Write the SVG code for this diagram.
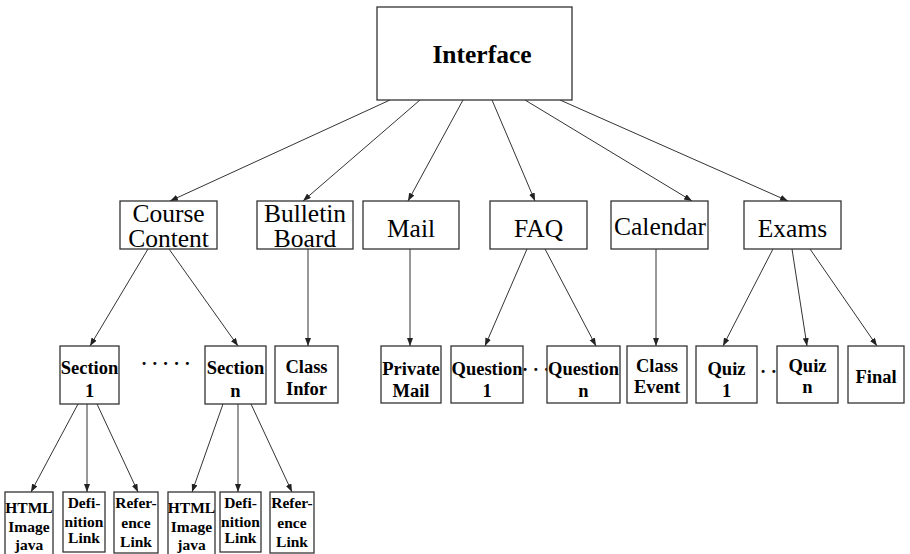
<svg xmlns="http://www.w3.org/2000/svg" width="910" height="554" viewBox="0 0 910 554">
  <defs>
    <marker id="arrow" markerUnits="userSpaceOnUse" markerWidth="9" markerHeight="7" refX="8" refY="3" orient="auto">
      <path d="M0,0 L8,3 L0,6 Z" fill="#222"/>
    </marker>
    <style>
      rect { fill: #fff; stroke: #333; stroke-width: 1.3; }
      .edges line { stroke: #333; stroke-width: 1; marker-end: url(#arrow); }
      text { font-family: "Liberation Serif", "Times New Roman", serif; fill: #000; text-anchor: middle; }
      .top { font-size: 25.5px; font-weight: bold; }
      .l2 { font-size: 25.5px; }
      .l3 { font-size: 18.5px; font-weight: bold; }
      .l4 { font-size: 15.5px; font-weight: bold; }
      .dots { font-size: 18.5px; font-weight: bold; text-anchor: start; }
    </style>
  </defs>
  <rect x="0" y="0" width="910" height="554" style="fill:#fff;stroke:none"/>

  <!-- connectors -->
  <g id="connectors" class="edges">
    <line x1="390" y1="100" x2="170" y2="201"/>
    <line x1="420" y1="100" x2="303" y2="201"/>
    <line x1="463" y1="100" x2="408" y2="201"/>
    <line x1="492" y1="100" x2="535" y2="201"/>
    <line x1="525" y1="100" x2="692" y2="201"/>
    <line x1="560" y1="100" x2="788" y2="201"/>

    <line x1="148" y1="249" x2="90" y2="346"/>
    <line x1="169" y1="249" x2="238" y2="346"/>
    <line x1="308" y1="249" x2="308" y2="346"/>
    <line x1="410" y1="249" x2="410" y2="346"/>
    <line x1="527" y1="249" x2="485" y2="346"/>
    <line x1="545" y1="249" x2="596" y2="346"/>
    <line x1="656" y1="249" x2="656" y2="346"/>
    <line x1="773" y1="249" x2="723" y2="346"/>
    <line x1="792" y1="249" x2="807" y2="346"/>
    <line x1="810" y1="249" x2="877" y2="346"/>

    <line x1="78" y1="404" x2="31" y2="492"/>
    <line x1="87" y1="404" x2="87" y2="492"/>
    <line x1="97" y1="404" x2="138" y2="492"/>
    <line x1="223" y1="404" x2="192" y2="492"/>
    <line x1="238" y1="404" x2="238" y2="492"/>
    <line x1="251" y1="404" x2="292" y2="492"/>
  </g>

  <!-- root -->
  <g id="interface">
    <rect x="377" y="7" width="195" height="93"/>
    <text class="top" x="482" y="63">Interface</text>
  </g>

  <!-- second level -->
  <g id="course-content">
    <rect x="120" y="201" width="97" height="48"/>
    <text class="l2" x="168.5" y="222">Course</text>
    <text class="l2" x="168.5" y="247">Content</text>
  </g>
  <g id="bulletin-board">
    <rect x="257" y="201" width="96" height="48"/>
    <text class="l2" x="305" y="222">Bulletin</text>
    <text class="l2" x="305" y="247">Board</text>
  </g>
  <g id="mail">
    <rect x="363" y="201" width="96" height="48"/>
    <text class="l2" x="411" y="237">Mail</text>
  </g>
  <g id="faq">
    <rect x="490" y="201" width="97" height="48"/>
    <text class="l2" x="538.5" y="237">FAQ</text>
  </g>
  <g id="calendar">
    <rect x="611" y="201" width="97" height="48"/>
    <text class="l2" x="660" y="234.5">Calendar</text>
  </g>
  <g id="exams">
    <rect x="744" y="201" width="97" height="48"/>
    <text class="l2" x="792.5" y="237">Exams</text>
  </g>

  <!-- third level -->
  <g id="section-1">
    <rect x="60" y="346" width="59" height="58"/>
    <text class="l3" x="89.5" y="374">Section</text>
    <text class="l3" x="89.5" y="397">1</text>
  </g>
  <text class="dots" x="141" y="370">· · · · ·</text>
  <g id="section-n">
    <rect x="205" y="346" width="61" height="58"/>
    <text class="l3" x="235.5" y="374">Section</text>
    <text class="l3" x="235.5" y="397">n</text>
  </g>
  <g id="class-infor">
    <rect x="275" y="346" width="63" height="57"/>
    <text class="l3" x="306.5" y="373">Class</text>
    <text class="l3" x="306.5" y="395">Infor</text>
  </g>
  <g id="private-mail">
    <rect x="381" y="346" width="60" height="57"/>
    <text class="l3" x="411" y="375">Private</text>
    <text class="l3" x="411" y="397">Mail</text>
  </g>
  <g id="question-1">
    <rect x="451" y="346" width="72" height="57"/>
    <text class="l3" x="487" y="375">Question</text>
    <text class="l3" x="487" y="397">1</text>
  </g>
  <text class="dots" x="522" y="376">· · ·</text>
  <g id="question-n">
    <rect x="547" y="346" width="73" height="57"/>
    <text class="l3" x="583.5" y="375">Question</text>
    <text class="l3" x="583.5" y="397">n</text>
  </g>
  <g id="class-event">
    <rect x="627" y="346" width="60" height="57"/>
    <text class="l3" x="657" y="372">Class</text>
    <text class="l3" x="657" y="393">Event</text>
  </g>
  <g id="quiz-1">
    <rect x="696" y="346" width="61" height="57"/>
    <text class="l3" x="726.5" y="375">Quiz</text>
    <text class="l3" x="726.5" y="397">1</text>
  </g>
  <text class="dots" x="760" y="378">· ·</text>
  <g id="quiz-n">
    <rect x="777" y="346" width="61" height="57"/>
    <text class="l3" x="807.5" y="372">Quiz</text>
    <text class="l3" x="807.5" y="393">n</text>
  </g>
  <g id="final">
    <rect x="848" y="346" width="56" height="57"/>
    <text class="l3" x="876" y="383">Final</text>
  </g>

  <!-- leaves -->
  <g id="html-1">
    <rect x="5" y="492" width="48" height="70"/>
    <text class="l4" x="29" y="513">HTML</text>
    <text class="l4" x="29" y="532">Image</text>
    <text class="l4" x="29" y="550">java</text>
  </g>
  <g id="definition-1">
    <rect x="63" y="492" width="42" height="60"/>
    <text class="l4" x="84" y="508">Defi-</text>
    <text class="l4" x="84" y="527">nition</text>
    <text class="l4" x="84" y="543">Link</text>
  </g>
  <g id="reference-1">
    <rect x="114" y="492" width="44" height="61"/>
    <text class="l4" x="136" y="508">Refer-</text>
    <text class="l4" x="136" y="528">ence</text>
    <text class="l4" x="136" y="547">Link</text>
  </g>
  <g id="html-n">
    <rect x="168" y="492" width="47" height="70"/>
    <text class="l4" x="191.5" y="513">HTML</text>
    <text class="l4" x="191.5" y="532">Image</text>
    <text class="l4" x="191.5" y="550">java</text>
  </g>
  <g id="definition-n">
    <rect x="220" y="492" width="41" height="60"/>
    <text class="l4" x="240.5" y="508">Defi-</text>
    <text class="l4" x="240.5" y="527">nition</text>
    <text class="l4" x="240.5" y="543">Link</text>
  </g>
  <g id="reference-n">
    <rect x="270" y="492" width="44" height="61"/>
    <text class="l4" x="292" y="508">Refer-</text>
    <text class="l4" x="292" y="528">ence</text>
    <text class="l4" x="292" y="547">Link</text>
  </g>
</svg>
